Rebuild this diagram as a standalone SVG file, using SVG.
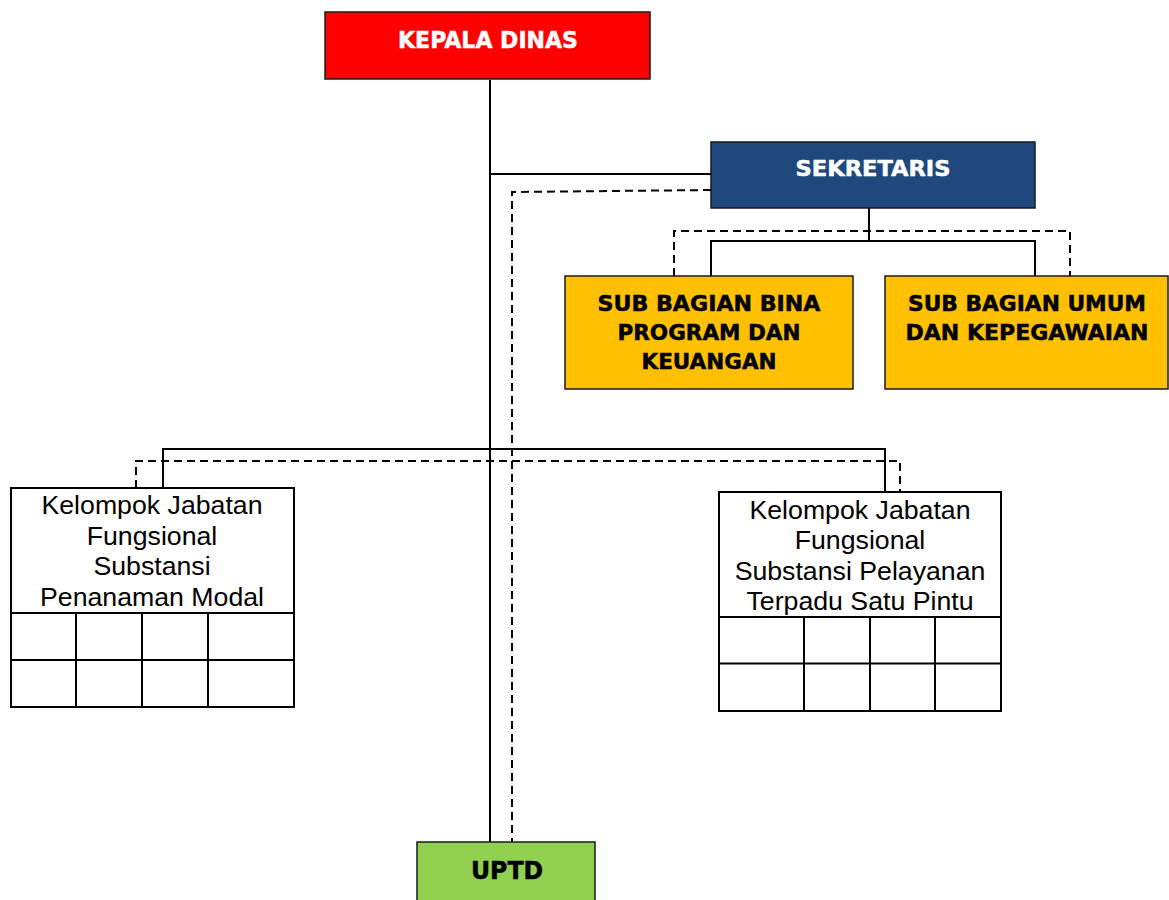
<svg xmlns="http://www.w3.org/2000/svg" width="1169" height="900" viewBox="0 0 1169 900">
<style>
.box{stroke:#1a1a1a;stroke-width:1.5}
.grid{fill:#fff;stroke:#000;stroke-width:2}
.ln{fill:none;stroke:#000;stroke-width:2}
.dl{fill:none;stroke:#000;stroke-width:2;stroke-dasharray:8,5}
.bt{font-family:"DejaVu Sans","Liberation Sans",sans-serif;font-weight:bold;text-anchor:middle;stroke-width:0.5}
.w{fill:#fff;stroke:#fff}
.k{fill:#000;stroke:#000}
.nt{font-family:"Liberation Sans",Arial,sans-serif;font-size:26.7px;text-anchor:middle;fill:#000}
</style>
<rect width="1169" height="900" fill="#fff"/>
<g id="connectors">
<line class="ln" x1="490" y1="80" x2="490" y2="842"/>
<line class="ln" x1="490" y1="174" x2="711" y2="174"/>
<polyline class="dl" points="711,190 512,192 512,842"/>
<line class="ln" x1="869" y1="208" x2="869" y2="242"/>
<polyline class="dl" points="674,276 674,231 1070,231 1070,276"/>
<polyline class="ln" points="711,276 711,241 1035,241 1035,276"/>
<polyline class="ln" points="163,488 163,449 885,449 885,492"/>
<polyline class="dl" points="136,488 136,461 900,461 900,492"/>
</g>
<g id="kepala-dinas">
<rect class="box" x="325" y="12" width="325" height="67" fill="#FF0000"/>
<text class="bt w" x="488" y="47.5" font-size="23" textLength="180" lengthAdjust="spacingAndGlyphs">KEPALA DINAS</text>
</g>
<g id="sekretaris">
<rect class="box" x="711" y="142" width="324" height="66" fill="#1F497D"/>
<text class="bt w" x="873" y="176" font-size="22" textLength="155" lengthAdjust="spacingAndGlyphs">SEKRETARIS</text>
</g>
<g id="sub-bagian-bina-program">
<rect class="box" x="565" y="276" width="288" height="113" fill="#FFC000"/>
<text class="bt k" x="709" y="310.5" font-size="21.5" textLength="223" lengthAdjust="spacingAndGlyphs">SUB BAGIAN BINA</text>
<text class="bt k" x="709" y="340" font-size="21.5" textLength="183" lengthAdjust="spacingAndGlyphs">PROGRAM DAN</text>
<text class="bt k" x="709" y="368.5" font-size="21.5" textLength="135" lengthAdjust="spacingAndGlyphs">KEUANGAN</text>
</g>
<g id="sub-bagian-umum">
<rect class="box" x="885" y="276" width="283" height="113" fill="#FFC000"/>
<text class="bt k" x="1027" y="310.5" font-size="21.5" textLength="238" lengthAdjust="spacingAndGlyphs">SUB BAGIAN UMUM</text>
<text class="bt k" x="1027" y="340" font-size="21.5" textLength="243" lengthAdjust="spacingAndGlyphs">DAN KEPEGAWAIAN</text>
</g>
<g id="kjf-penanaman-modal">
<rect class="grid" x="11" y="488" width="283" height="219"/>
<line class="ln" x1="11" y1="613" x2="294" y2="613"/>
<line class="ln" x1="11" y1="660" x2="294" y2="660"/>
<line class="ln" x1="76" y1="613" x2="76" y2="707"/>
<line class="ln" x1="142" y1="613" x2="142" y2="707"/>
<line class="ln" x1="208" y1="613" x2="208" y2="707"/>
<text class="nt" x="152" y="514">Kelompok Jabatan</text>
<text class="nt" x="152" y="544.5">Fungsional</text>
<text class="nt" x="152" y="575">Substansi</text>
<text class="nt" x="152" y="605.5">Penanaman Modal</text>
</g>
<g id="kjf-ptsp">
<rect class="grid" x="719" y="492" width="282" height="219"/>
<line class="ln" x1="719" y1="617" x2="1001" y2="617"/>
<line class="ln" x1="719" y1="663.5" x2="1001" y2="663.5"/>
<line class="ln" x1="804" y1="617" x2="804" y2="711"/>
<line class="ln" x1="870" y1="617" x2="870" y2="711"/>
<line class="ln" x1="935" y1="617" x2="935" y2="711"/>
<text class="nt" x="860" y="518.5">Kelompok Jabatan</text>
<text class="nt" x="860" y="549">Fungsional</text>
<text class="nt" x="860" y="579.5">Substansi Pelayanan</text>
<text class="nt" x="860" y="610">Terpadu Satu Pintu</text>
</g>
<g id="uptd">
<rect class="box" x="417" y="842" width="178" height="70" fill="#92D050"/>
<text class="bt k" x="507" y="878.5" font-size="24" textLength="72" lengthAdjust="spacingAndGlyphs">UPTD</text>
</g>
</svg>
